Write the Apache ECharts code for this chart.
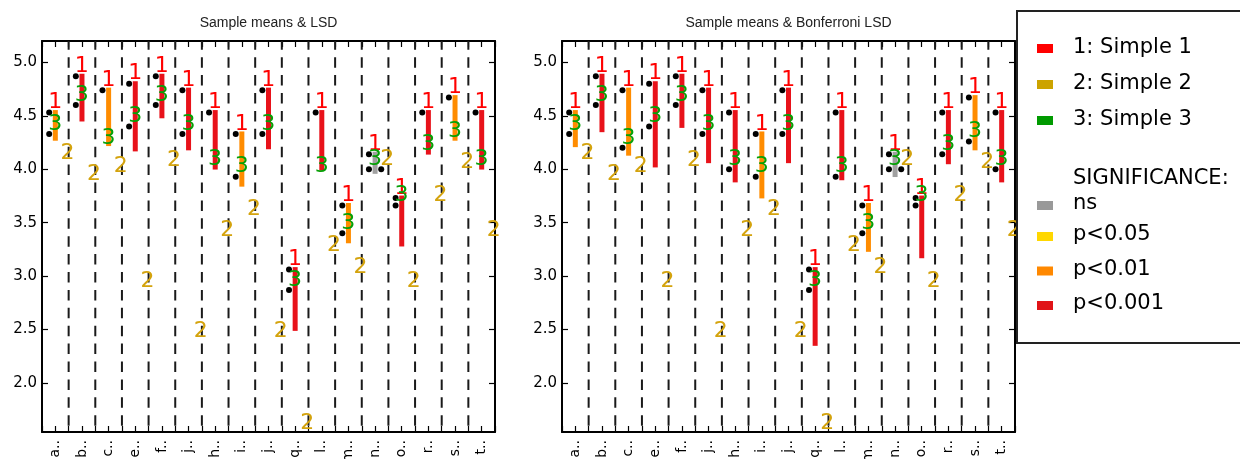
<!DOCTYPE html>
<html>
<head>
<meta charset="utf-8">
<script src="https://cdn.jsdelivr.net/npm/echarts@6/dist/echarts.min.js"></script>
<style>
  html, body { margin: 0; padding: 0; background: #fff; }
  #chart { width: 1240px; height: 459px; }
</style>
</head>
<body>
<div id="chart"></div>
<script>
// Items along the x axis
const categories = ['a..', 'b..', 'c..', 'e..', 'f..', 'j..', 'h..', 'i..', 'j..', 'q..', 'l..', 'm..', 'n..', 'o..', 'r..', 's..', 't..'];

// Sample means of the three groups per item
const mean1 = [4.53, 4.87, 4.74, 4.80, 4.87, 4.74, 4.53, 4.33, 4.74, 3.06, 4.53, 3.66, 4.14, 3.73, 4.53, 4.67, 4.53];
const mean2 = [4.06, 3.86, 3.93, 2.86, 3.99, 2.39, 3.33, 3.53, 2.39, 1.53, 3.19, 2.99, 4.00, 2.86, 3.66, 3.97, 3.33];
const mean3 = [4.33, 4.60, 4.20, 4.40, 4.60, 4.33, 4.00, 3.93, 4.33, 2.87, 3.93, 3.40, 4.00, 3.66, 4.14, 4.26, 4.00];

// Lower end of the difference interval hanging from the top mean
const lsdLow        = [4.29, 4.47, 4.24, 4.19, 4.50, 4.20, 4.02, 3.86, 4.21, 2.51, 4.01, 3.33, 3.98, 3.30, 4.16, 4.29, 4.02];
const bonferroniLow = [4.23, 4.37, 4.15, 4.04, 4.41, 4.08, 3.90, 3.75, 4.08, 2.37, 3.92, 3.25, 3.95, 3.19, 4.07, 4.20, 3.90];

// Significance level per item: 0 ns, 1 p<0.05, 2 p<0.01, 3 p<0.001
const significance = [2, 3, 2, 3, 3, 3, 3, 2, 3, 3, 3, 2, 0, 3, 3, 2, 3];

const sigLevels = ['ns', 'p<0.05', 'p<0.01', 'p<0.001'];
const groupNames = ['1: Simple 1', '2: Simple 2', '3: Simple 3'];
const sigHeader = 'SIGNIFICANCE:';
const yTicks = [2.0, 2.5, 3.0, 3.5, 4.0, 4.5, 5.0];
const panelTitles = ['Sample means & LSD', 'Sample means & Bonferroni LSD'];

const Y_MIN = 1.54, Y_MAX = 5.2;
const groupColors = ['#ff0000', '#d4a30d', '#06a006'];
const groupSwatch = ['#ff0000', '#cca300', '#009a00'];
const sigColors = ['#a0a0a0', '#ffd700', '#ff8c00', '#e8121a'];
const sigSwatch = ['#999999', '#ffd700', '#ff8800', '#e01418'];
const groupShift = [-0.23, 0.23, -0.23];
const means = [mean1, mean2, mean3];

const panels = [
  { low: lsdLow, left: 42 },
  { low: bonferroniLow, left: 562 }
];
const GRID_TOP = 41, GRID_W = 453, GRID_H = 391;

const grids = [], xAxes = [], yAxes = [], series = [];

panels.forEach((panel, p) => {
  grids.push({ left: panel.left, top: GRID_TOP, width: GRID_W, height: GRID_H, outerBoundsMode: 'none' });

  ['bottom', 'top'].forEach(pos => {
    xAxes.push({
      type: 'value', gridIndex: p, position: pos,
      min: -0.5, max: categories.length - 0.5, interval: 0.5,
      axisLine: { show: true, onZero: false, lineStyle: { color: '#000', width: 2 } },
      axisTick: { show: true, inside: true, length: 6, lineStyle: { color: '#000', width: 1.2 } },
      splitLine: { show: false },
      axisLabel: pos === 'bottom' ? {
        show: true, rotate: 90, margin: 8,
        fontFamily: 'DejaVu Sans', fontSize: 14, color: '#000',
        formatter: v => {
          const k = Math.round(v);
          return Math.abs(v - k) < 1e-6 && categories[k] ? categories[k] : '';
        }
      } : { show: false }
    });
  });

  ['left', 'right'].forEach(pos => {
    yAxes.push({
      type: 'value', gridIndex: p, position: pos,
      min: Y_MIN, max: Y_MAX,
      axisLine: { show: true, onZero: false, lineStyle: { color: '#000', width: 2 } },
      axisTick: { show: true, inside: true, length: 6, customValues: yTicks, lineStyle: { color: '#000', width: 1.2 } },
      splitLine: { show: false },
      axisLabel: pos === 'left' ? {
        show: true, margin: 5, customValues: yTicks,
        fontFamily: 'DejaVu Sans', fontSize: 15, color: '#000',
        formatter: v => v.toFixed(1)
      } : { show: false }
    });
  });

  const xi = 2 * p, yi = 2 * p;

  // dashed separators between items
  series.push({
    type: 'custom', xAxisIndex: xi, yAxisIndex: yi, z: 1, silent: true, clip: false,
    data: categories.slice(1).map((_, i) => [i + 0.5, Y_MIN]),
    encode: { x: 0, y: 1 },
    renderItem: (params, api) => {
      const x = api.value(0);
      const a = api.coord([x, Y_MAX]);
      const b = api.coord([x, Y_MIN]);
      return {
        type: 'line',
        shape: { x1: a[0], y1: a[1], x2: b[0], y2: b[1] },
        style: { stroke: '#1a1a1a', lineWidth: 2, lineDash: [10.5, 7.4], lineDashOffset: 1.7 }
      };
    }
  });

  // interval bars coloured by significance
  series.push({
    type: 'custom', xAxisIndex: xi, yAxisIndex: yi, z: 2, silent: true, clip: false,
    data: categories.map((_, i) => [i, mean1[i], panel.low[i], significance[i]]),
    encode: { x: 0, y: [1, 2] },
    renderItem: (params, api) => {
      const a = api.coord([api.value(0), api.value(1)]);
      const b = api.coord([api.value(0), api.value(2)]);
      return {
        type: 'line',
        shape: { x1: a[0], y1: a[1], x2: b[0], y2: b[1] },
        style: { stroke: sigColors[api.value(3)], lineWidth: 5, lineCap: 'square' }
      };
    }
  });

  // black dots for means that fall inside the interval
  const dots = [];
  categories.forEach((_, i) => {
    means.forEach((m, g) => {
      if (m[i] >= panel.low[i] - 1e-9) dots.push([i + groupShift[g], m[i]]);
    });
  });
  series.push({
    type: 'scatter', xAxisIndex: xi, yAxisIndex: yi, z: 3, silent: true,
    symbol: 'circle', symbolSize: 6, itemStyle: { color: '#000', opacity: 1 },
    data: dots
  });

  // group digits marking each mean
  const digits = [];
  categories.forEach((_, i) => {
    means.forEach((m, g) => digits.push([i + groupShift[g], m[i], g]));
  });
  series.push({
    type: 'custom', xAxisIndex: xi, yAxisIndex: yi, z: 4, silent: true, clip: false,
    data: digits,
    encode: { x: 0, y: 1 },
    renderItem: (params, api) => {
      const g = api.value(2);
      const c = api.coord([api.value(0), api.value(1)]);
      return {
        type: 'text', x: c[0] + 6, y: c[1] - 10,
        style: {
          text: String(g + 1), fill: groupColors[g],
          fontFamily: 'DejaVu Sans', fontSize: 22,
          align: 'center', verticalAlign: 'middle'
        }
      };
    }
  });
});

// titles and legend box
const graphics = [];
panels.forEach((panel, p) => {
  graphics.push({
    type: 'text', x: panel.left + GRID_W / 2, y: 23,
    style: { text: panelTitles[p], fill: '#222', fontFamily: 'Liberation Sans', fontSize: 14, align: 'center', verticalAlign: 'middle' }
  });
});

graphics.push({
  type: 'rect', shape: { x: 1017, y: 11, width: 260, height: 332 },
  style: { fill: '#fff', stroke: '#222', lineWidth: 2 }, z: 10
});

const legendFont = { fontFamily: 'DejaVu Sans', fontSize: 21, fill: '#000', align: 'left', verticalAlign: 'middle' };
const groupRowY = [47.5, 83.5, 119.5];
const sigRowY = [204, 235, 269.5, 304];
groupNames.forEach((name, g) => {
  graphics.push({ type: 'rect', z: 11, shape: { x: 1037, y: groupRowY[g] - 3.5, width: 16, height: 9 }, style: { fill: groupSwatch[g] } });
  graphics.push({ type: 'text', z: 11, x: 1073, y: groupRowY[g], style: Object.assign({ text: name }, legendFont) });
});
graphics.push({ type: 'text', z: 11, x: 1073, y: 178.5, style: Object.assign({ text: sigHeader }, legendFont) });
sigLevels.forEach((name, s) => {
  graphics.push({ type: 'rect', z: 11, shape: { x: 1037, y: sigRowY[s] - 3, width: 16, height: 9 }, style: { fill: sigSwatch[s] } });
  graphics.push({ type: 'text', z: 11, x: 1073, y: sigRowY[s], style: Object.assign({ text: name }, legendFont) });
});

const chart = echarts.init(document.getElementById('chart'), null, { renderer: 'canvas' });
chart.setOption({
  animation: false,
  backgroundColor: '#fff',
  grid: grids,
  xAxis: xAxes,
  yAxis: yAxes,
  series: series,
  graphic: graphics
});
</script>
</body>
</html>
